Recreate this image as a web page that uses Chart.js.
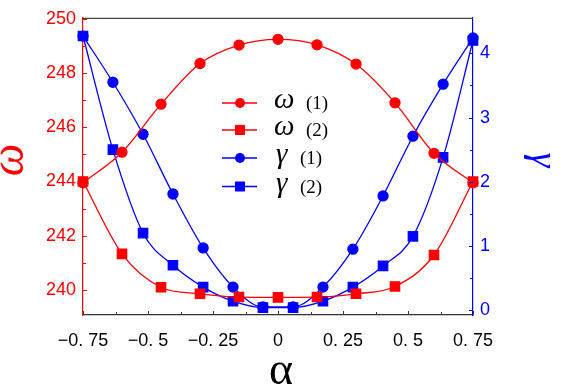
<!DOCTYPE html>
<html><head><meta charset="utf-8">
<script src="https://cdn.jsdelivr.net/npm/chart.js@4"></script>
<style>html,body{margin:0;padding:0;background:#fff}#wrap{width:563px;height:389px;position:relative}</style>
</head><body><div id="wrap"><canvas id="c" width="563" height="389"></canvas></div>
<script>
// ---- data ----
const alphaOmega = [-0.75,-0.6,-0.45,-0.3,-0.15,0,0.15,0.3,0.45,0.6,0.75];
const omega1 = [243.95,245.08,246.85,248.35,249.03,249.24,249.04,248.33,246.9,245.04,243.95];
const omega2 = [244.0,241.33,240.1,239.86,239.74,239.73,239.74,239.86,240.13,241.29,244.0];
const alphaGamma = [-0.75,-0.635,-0.519,-0.404,-0.288,-0.173,-0.058,0.058,0.173,0.288,0.404,0.519,0.635,0.75];
const gamma1 = [4.27,3.55,2.74,1.81,0.97,0.36,0.05,0.05,0.36,0.95,1.78,2.71,3.52,4.24];
const gamma2 = [4.27,2.50,1.20,0.70,0.36,0.14,0.04,0.04,0.14,0.36,0.69,1.15,2.38,4.20];
const xTicks = [-0.75,-0.5,-0.25,0,0.25,0.5,0.75];
const xTickLabels = ['\u22120. 75','\u22120. 5','\u22120. 25','0','0. 25','0. 5','0. 75'];
const xMinorTicks = [-0.625,-0.375,-0.125,0.125,0.375,0.625];
const omegaTicks = [240,242,244,246,248,250];
const omegaMinorTicks = [241,243,245,247,249];
const gammaTicks = [0,1,2,3,4];
const gammaMinorTicks = [0.5,1.5,2.5,3.5];
const seriesNames = ['\u03c9','\u03c9','\u03b3','\u03b3'];
const seriesTags = ['(1)','(2)','(1)','(2)'];

const RED = '#ff0000', BLUE = '#0000ff';
const pts = (xs, ys) => xs.map((x, i) => ({x, y: ys[i]}));

const ds = (label, xs, ys, color, style, axis) => ({
  label, data: pts(xs, ys), borderColor: color, backgroundColor: color,
  pointStyle: style, pointRadius: style === 'rect' ? 6.6 : 5, pointHoverRadius: 5,
  borderWidth: 1.3, cubicInterpolationMode: 'monotone', yAxisID: axis, clip: false
});

const overlay = {
  id: 'overlay',
  afterDraw(chart) {
    const ctx = chart.ctx, a = chart.chartArea;
    const sx = chart.scales.x, yl = chart.scales.yL, yr = chart.scales.yR;
    ctx.save();
    // top frame line
    ctx.strokeStyle = '#444'; ctx.lineWidth = 1.2;
    ctx.beginPath(); ctx.moveTo(a.left, a.top + 0.5); ctx.lineTo(a.right, a.top + 0.5); ctx.stroke();
    // inward ticks
    const tick = (color, fn) => { ctx.strokeStyle = color; ctx.lineWidth = 1; ctx.beginPath(); fn(); ctx.stroke(); };
    tick('#333', () => {
      xTicks.forEach(v => { const p = Math.round(sx.getPixelForValue(v)) + 0.5; ctx.moveTo(p, a.bottom); ctx.lineTo(p, a.bottom - 4); });
      xMinorTicks.forEach(v => { const p = Math.round(sx.getPixelForValue(v)) + 0.5; ctx.moveTo(p, a.bottom); ctx.lineTo(p, a.bottom - 3); });
    });
    tick(RED, () => {
      omegaTicks.forEach(v => { const p = Math.round(yl.getPixelForValue(v)) + 0.5; ctx.moveTo(a.left, p); ctx.lineTo(a.left + 4, p); });
      omegaMinorTicks.forEach(v => { const p = Math.round(yl.getPixelForValue(v)) + 0.5; ctx.moveTo(a.left, p); ctx.lineTo(a.left + 3, p); });
    });
    tick(BLUE, () => {
      gammaTicks.forEach(v => { const p = Math.round(yr.getPixelForValue(v)) + 0.5; ctx.moveTo(a.right, p); ctx.lineTo(a.right - 4, p); });
      gammaMinorTicks.forEach(v => { const p = Math.round(yr.getPixelForValue(v)) + 0.5; ctx.moveTo(a.right, p); ctx.lineTo(a.right - 3, p); });
    });
    // axis titles
    ctx.textAlign = 'center'; ctx.textBaseline = 'middle';
    ctx.fillStyle = RED; ctx.font = 'italic 46px "Liberation Serif", serif';
    ctx.save(); ctx.translate(11, 160); ctx.rotate(-Math.PI / 2); ctx.fillText('\u03c9', 0, 0); ctx.restore();
    ctx.fillStyle = BLUE; ctx.font = 'italic 38px "Liberation Serif", serif';
    ctx.save(); ctx.translate(541, 160); ctx.rotate(Math.PI / 2); ctx.textBaseline = 'alphabetic'; ctx.fillText('\u03b3', 0, 9); ctx.restore();
    ctx.fillStyle = '#000'; ctx.font = '46px "Liberation Serif", serif';
    ctx.fillText('\u03b1', 281, 372);
    // legend
    const rows = [103, 130, 158, 186.5];
    chart.data.datasets.forEach((d, i) => {
      const y = rows[i];
      ctx.strokeStyle = d.borderColor; ctx.lineWidth = 1.3;
      ctx.beginPath(); ctx.moveTo(222, y); ctx.lineTo(257, y); ctx.stroke();
      ctx.fillStyle = d.borderColor;
      if (d.pointStyle === 'rect') { ctx.fillRect(235, y - 5, 10, 10); }
      else { ctx.beginPath(); ctx.arc(240, y, 5, 0, Math.PI * 2); ctx.fill(); }
      ctx.fillStyle = '#000'; ctx.textAlign = 'left'; ctx.textBaseline = 'alphabetic';
      ctx.font = 'italic 29px "Liberation Serif", serif';
      ctx.fillText(seriesNames[i], i < 2 ? 274 : 276, y + 5);
      ctx.font = '19px "Liberation Serif", serif';
      ctx.fillText(seriesTags[i], i < 2 ? 306 : 300, y + 6);
    });
    ctx.restore();
  }
};

new Chart(document.getElementById('c'), {
  type: 'line',
  data: { datasets: [
    ds('\u03c9 (1)', alphaOmega, omega1, RED, 'circle', 'yL'),
    ds('\u03c9 (2)', alphaOmega, omega2, RED, 'rect', 'yL'),
    ds('\u03b3 (1)', alphaGamma, gamma1, BLUE, 'circle', 'yR'),
    ds('\u03b3 (2)', alphaGamma, gamma2, BLUE, 'rect', 'yR')
  ]},
  options: {
    responsive: false, animation: false, devicePixelRatio: 1,
    layout: { padding: { top: 6, left: 0, right: 0, bottom: 0 } },
    plugins: { legend: { display: false }, tooltip: { enabled: false } },
    scales: {
      x: {
        type: 'linear', min: -0.75, max: 0.75,
        afterBuildTicks: s => { s.ticks = xTicks.map(v => ({value: v})); },
        afterFit: s => { s.height = 74; },
        grid: { display: false, drawTicks: false },
        border: { display: true, color: '#333', width: 1.2 },
        ticks: { color: '#000', padding: 15, maxRotation: 0, autoSkip: false,
          font: { family: '"Liberation Sans", Arial, sans-serif', size: 18 },
          callback: (v, i) => xTickLabels[i] }
      },
      yL: {
        type: 'linear', position: 'left', min: 239.078, max: 250.035,
        afterBuildTicks: s => { s.ticks = omegaTicks.map(v => ({value: v})); },
        afterFit: s => { s.width = 83; },
        grid: { display: false, drawTicks: false },
        border: { display: true, color: RED, width: 1.2 },
        ticks: { color: RED, padding: 7, font: { family: '"Liberation Sans", Arial, sans-serif', size: 18 } }
      },
      yR: {
        type: 'linear', position: 'right', min: -0.075, max: 4.554,
        afterBuildTicks: s => { s.ticks = gammaTicks.map(v => ({value: v})); },
        afterFit: s => { s.width = 90; },
        grid: { display: false, drawTicks: false },
        border: { display: true, color: BLUE, width: 1.2 },
        ticks: { color: BLUE, padding: 7, font: { family: '"Liberation Sans", Arial, sans-serif', size: 18 } }
      }
    }
  },
  plugins: [overlay]
});
</script></body></html>
